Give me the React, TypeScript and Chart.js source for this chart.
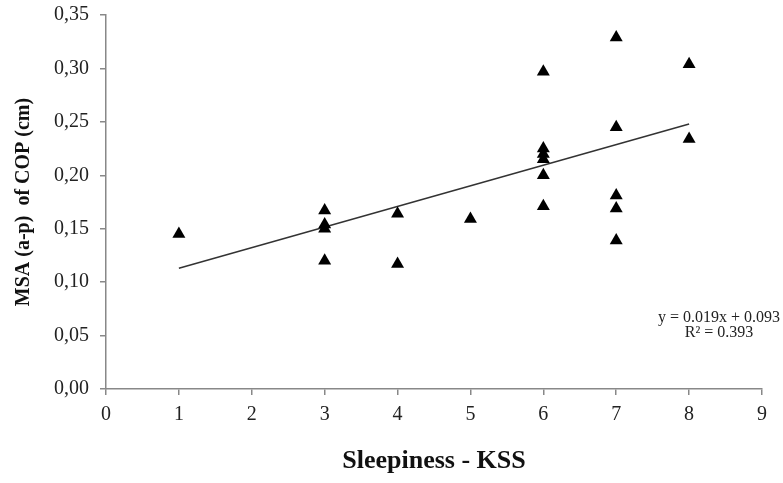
import React, { useEffect, useRef } from "react";
import { Chart, registerables } from "chart.js";

Chart.register(...registerables);

const kss = [1, 3, 3, 3, 3, 4, 4, 5, 6, 6, 6, 6, 6, 6, 7, 7, 7, 7, 7, 8, 8];
const msa = [0.145, 0.167, 0.154, 0.150, 0.120, 0.164, 0.117, 0.159, 0.297, 0.225, 0.220, 0.215, 0.200, 0.171, 0.329, 0.245, 0.181, 0.169, 0.139, 0.304, 0.234];
const trendX = [1, 8];
const trendY = [0.113, 0.248];
const equationLines = ["y = 0.019x + 0.093", "R² = 0.393"];
const xTitle = "Sleepiness - KSS";
const yTitle = "MSA (a-p)  of COP (cm)";

const equationPlugin = {
  id: "equationText",
  afterDraw(chart: any) {
    const ctx = chart.ctx;
    ctx.save();
    ctx.fillStyle = "#222";
    ctx.font = "16px 'Liberation Serif'";
    ctx.textAlign = "center";
    ctx.textBaseline = "middle";
    equationLines.forEach((t, i) => ctx.fillText(t, 719, 318 + i * 15));
    ctx.restore();
  },
};

export default function App() {
  const ref = useRef<HTMLCanvasElement>(null);
  useEffect(() => {
    if (!ref.current) return;
    const chart = new Chart(ref.current, {
      type: "scatter",
      data: {
        datasets: [
          {
            type: "scatter",
            data: kss.map((x, i) => ({ x, y: msa[i] })),
            pointStyle: "triangle",
            pointRadius: 7.5,
            pointBackgroundColor: "#000",
            pointBorderColor: "#000",
            pointBorderWidth: 0,
          },
          {
            type: "line",
            data: trendX.map((x, i) => ({ x, y: trendY[i] })),
            borderColor: "#333",
            borderWidth: 1.5,
            pointRadius: 0,
            fill: false,
          } as any,
        ],
      },
      options: {
        animation: false,
        responsive: true,
        maintainAspectRatio: false,
        layout: { padding: { top: 15, right: 21, left: 0, bottom: 0 } },
        plugins: { legend: { display: false }, tooltip: { enabled: false } },
        scales: {
          x: {
            type: "linear",
            min: 0,
            max: 9,
            ticks: {
              stepSize: 1,
              color: "#222",
              padding: 8,
              font: { family: "'Liberation Serif'", size: 20 },
            },
            grid: { drawOnChartArea: false, drawTicks: true, tickLength: 6, color: "#888", lineWidth: 1.5 },
            border: { color: "#888", width: 1.5 },
            title: {
              display: true,
              text: xTitle,
              color: "#111",
              font: { family: "'Liberation Serif'", size: 26, weight: "bold" },
              padding: { top: 0, bottom: 6 },
            },
            afterFit: (s: any) => {
              s.height = 94;
              s.paddingLeft = 0;
              s.paddingRight = 0;
            },
          },
          y: {
            type: "linear",
            min: 0,
            max: 0.35,
            ticks: {
              stepSize: 0.05,
              color: "#222",
              padding: 11,
              font: { family: "'Liberation Serif'", size: 20 },
              callback: (v: any) => Number(v).toFixed(2).replace(".", ","),
            },
            grid: { drawOnChartArea: false, drawTicks: true, tickLength: 6, color: "#888", lineWidth: 1.5 },
            border: { color: "#888", width: 1.5 },
            title: {
              display: true,
              text: yTitle,
              color: "#111",
              font: { family: "'Liberation Serif'", size: 20, weight: "bold" },
              padding: { top: 12, bottom: 0 },
            },
            afterFit: (s: any) => {
              s.width = 106;
              s.paddingTop = 0;
              s.paddingBottom = 0;
            },
          },
        },
      },
      plugins: [equationPlugin],
    });
    return () => chart.destroy();
  }, []);
  return (
    <div style={{ position: "absolute", left: 0, top: 0, width: 783, height: 483, background: "#fff" }}>
      <canvas ref={ref} />
    </div>
  );
}
